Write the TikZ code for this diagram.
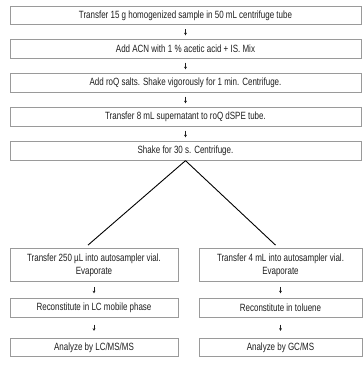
\documentclass[tikz,border=0pt]{standalone}
\usepackage{fontspec}
\setmainfont{Liberation Sans}[FakeStretch=0.76]
\usetikzlibrary{arrows.meta}
\definecolor{boxgray}{HTML}{9A9A9A}
\definecolor{inkgray}{HTML}{1E1E1E}
\tikzset{>={Stealth[length=2.6pt,width=2.8pt]},every node/.style={font=\fontsize{10.5}{13}\selectfont,text=inkgray},
  stepbox/.style={draw=boxgray,line width=.8pt,inner sep=0pt,align=center,minimum height=18.5pt},
  wide/.style={stepbox,minimum width=351pt},
  flow/.style={->,draw=inkgray,line width=.5pt,shorten <=4pt,shorten >=4pt},
  split/.style={draw=black,line width=.9pt}}

\begin{document}
\begin{tikzpicture}[x=1pt,y=1pt]
\useasboundingbox (0,0) rectangle (363,-367);
\node[wide] (s1) at (185.5,-15.5){Transfer 15 g homogenized sample in 50 mL centrifuge tube};
\node[wide] (s2) at (185.5,-49){Add ACN with 1 \% acetic acid + IS. Mix};
\node[wide] (s3) at (185.5,-83){Add roQ salts. Shake vigorously for 1 min. Centrifuge.};
\node[wide] (s4) at (185.5,-117){Transfer 8 mL supernatant to roQ dSPE tube.};
\node[wide] (s5) at (185.5,-151){Shake for 30 s. Centrifuge.};
\foreach \a/\b in {s1/s2,s2/s3,s3/s4,s4/s5} \draw[flow] (\a)--(\b);
% two branches
\node[stepbox,minimum width=168pt,minimum height=33pt] (lc1) at (94,-265){Transfer 250 µL into autosampler vial.\\Evaporate};
\node[stepbox,minimum width=168pt] (lc2) at (94,-308){Reconstitute in LC mobile phase};
\node[stepbox,minimum width=168pt] (lc3) at (94,-347.5){Analyze by LC/MS/MS};
\node[stepbox,minimum width=163pt,minimum height=33pt] (gc1) at (280.5,-265){Transfer 4 mL into autosampler vial.\\Evaporate};
\node[stepbox,minimum width=163pt] (gc2) at (280.5,-308){Reconstitute in toluene};
\node[stepbox,minimum width=163pt] (gc3) at (280.5,-347.5){Analyze by GC/MS};
\draw[flow,shorten <=5pt,shorten >=5pt] (lc1)--(lc2);\draw[flow,shorten <=7pt,shorten >=7pt] (lc2)--(lc3);
\draw[flow,shorten <=5pt,shorten >=5pt] (gc1)--(gc2);\draw[flow,shorten <=7pt,shorten >=7pt] (gc2)--(gc3);
\draw[split] (s5.south)--([xshift=-6pt,yshift=3pt]lc1.north);
\draw[split] (s5.south)--([xshift=-5pt,yshift=3pt]gc1.north);
\end{tikzpicture}
\end{document}
